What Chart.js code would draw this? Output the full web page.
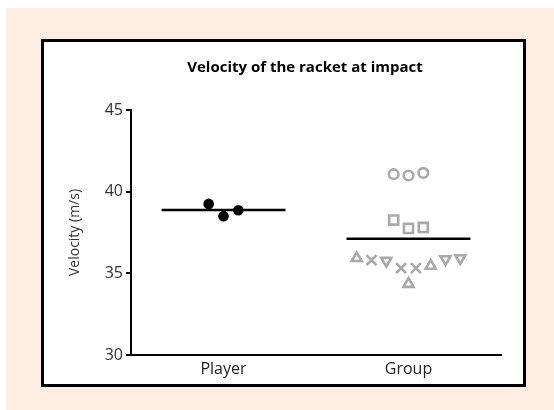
<!DOCTYPE html>
<html>
<head>
<meta charset="utf-8">
<script src="https://cdn.jsdelivr.net/npm/chart.js@4.4.1/dist/chart.umd.min.js"></script>
<style>
  html, body { margin: 0; padding: 0; background: #ffffff; }
  #wrap { width: 554px; height: 410px; position: relative; }
</style>
</head>
<body>
<div id="wrap"><canvas id="c" width="554" height="410"></canvas></div>
<script>
// Column categories and y-axis ticks
const categories = ['Player', 'Group'];
const yTicks = [30, 35, 40, 45];

// Player measurements (m/s) and their column slots
const playerValues = [39.25, 38.5, 38.86];
const playerSlots  = [-1, 0, 1];

// Group measurements (m/s), one array per subject marker
const groupCircleValues   = [41.07, 40.99, 41.15];
const groupCircleSlots    = [-1, 0, 1];
const groupSquareValues   = [38.26, 37.75, 37.81];
const groupSquareSlots    = [-1, 0, 1];
const groupTriUpValues    = [35.93, 35.46, 34.35];
const groupTriUpSlots     = [-3.5, 1.5, 0];
const groupCrossValues    = [35.81, 35.32, 35.32];
const groupCrossSlots     = [-2.5, -0.5, 0.5];
const groupTriDownValues  = [35.77, 35.87, 35.93];
const groupTriDownSlots   = [-1.5, 2.5, 3.5];

// Mean of each column
const columnMeans = [38.87, 37.12];

const SLOT = 0.08;       // horizontal spacing between stacked points
const MEAN_HALF = 0.335; // half-length of the mean bar
const GREY = '#a9a9a9';
const FONT = '"Open Sans", sans-serif';

function pts(catIndex, values, slots) {
  return values.map((v, i) => ({ x: catIndex + 1 + slots[i] * SLOT, y: v }));
}
function meanLine(catIndex) {
  const c = catIndex + 1;
  return [{ x: c - MEAN_HALF, y: columnMeans[catIndex] }, { x: c + MEAN_HALF, y: columnMeans[catIndex] }];
}
function hollow(data, style, radius, rotation) {
  return {
    type: 'scatter', data, showLine: false, clip: false,
    pointStyle: style, pointRotation: rotation || 0,
    pointRadius: radius, pointBorderWidth: 2.6,
    pointBorderColor: GREY, pointBackgroundColor: 'rgba(255,255,255,0)'
  };
}

// Page frame: tinted backdrop, white panel with heavy border, and the title
const framePlugin = {
  id: 'frame',
  beforeDraw(chart) {
    const ctx = chart.ctx;
    ctx.save();
    ctx.fillStyle = '#ffffff';
    ctx.fillRect(0, 0, 554, 410);
    ctx.fillStyle = '#fdede3';
    ctx.fillRect(6, 8, 548, 402);
    ctx.fillStyle = '#ffffff';
    ctx.fillRect(42, 40, 483, 346);
    ctx.strokeStyle = '#000000';
    ctx.lineWidth = 3;
    ctx.strokeRect(42.5, 40.5, 482, 345);
    ctx.restore();
  },
  afterDraw(chart) {
    const ctx = chart.ctx;
    ctx.save();
    ctx.fillStyle = '#000000';
    ctx.font = 'bold 15px ' + FONT;
    ctx.textAlign = 'center';
    ctx.textBaseline = 'alphabetic';
    ctx.fillText('Velocity of the racket at impact', 305, 72);
    ctx.restore();
  }
};

new Chart(document.getElementById('c'), {
  type: 'scatter',
  data: {
    datasets: [
      {
        type: 'line', data: meanLine(0), borderColor: '#000', borderWidth: 2.5,
        pointRadius: 0, fill: false, clip: false
      },
      {
        type: 'line', data: meanLine(1), borderColor: '#000', borderWidth: 2.5,
        pointRadius: 0, fill: false, clip: false
      },
      {
        type: 'scatter', data: pts(0, playerValues, playerSlots), clip: false,
        pointStyle: 'circle', pointRadius: 5.3, pointBorderWidth: 0,
        pointBackgroundColor: '#000'
      },
      hollow(pts(1, groupCircleValues, groupCircleSlots), 'circle', 4.8),
      hollow(pts(1, groupSquareValues, groupSquareSlots), 'rect', 6.4),
      hollow(pts(1, groupTriUpValues, groupTriUpSlots), 'triangle', 5.8),
      hollow(pts(1, groupCrossValues, groupCrossSlots), 'crossRot', 7),
      hollow(pts(1, groupTriDownValues, groupTriDownSlots), 'triangle', 5.8, 180)
    ]
  },
  options: {
    responsive: false,
    animation: false,
    events: [],
    layout: { padding: { left: 0, right: 53, top: 110, bottom: 0 } },
    plugins: { legend: { display: false }, tooltip: { enabled: false }, title: { display: false } },
    scales: {
      x: {
        type: 'linear', min: 0.5, max: 2.5,
        afterFit(s) { s.height = 55; },
        afterBuildTicks(s) { s.ticks = categories.map((_, i) => ({ value: i + 1 })); },
        grid: { display: false, drawTicks: false },
        border: { display: true, color: '#000', width: 2 },
        ticks: {
          callback: (v) => categories[v - 1],
          color: '#222', font: { family: FONT, size: 16 },
          padding: 5, maxRotation: 0, autoSkip: false
        }
      },
      y: {
        min: 30, max: 45,
        afterFit(s) { s.width = 131; },
        afterBuildTicks(s) { s.ticks = yTicks.map(v => ({ value: v })); },
        grid: { drawOnChartArea: false, drawTicks: true, tickLength: 5, color: '#000', lineWidth: 2 },
        border: { display: true, color: '#000', width: 2 },
        ticks: {
          color: '#333', font: { family: FONT, size: 16 },
          padding: 3
        },
        title: {
          display: true, text: 'Velocity (m/s)', color: '#333',
          font: { family: FONT, size: 14 },
          padding: { top: 67, bottom: 0 }
        }
      }
    }
  },
  plugins: [framePlugin]
});
</script>
</body>
</html>
